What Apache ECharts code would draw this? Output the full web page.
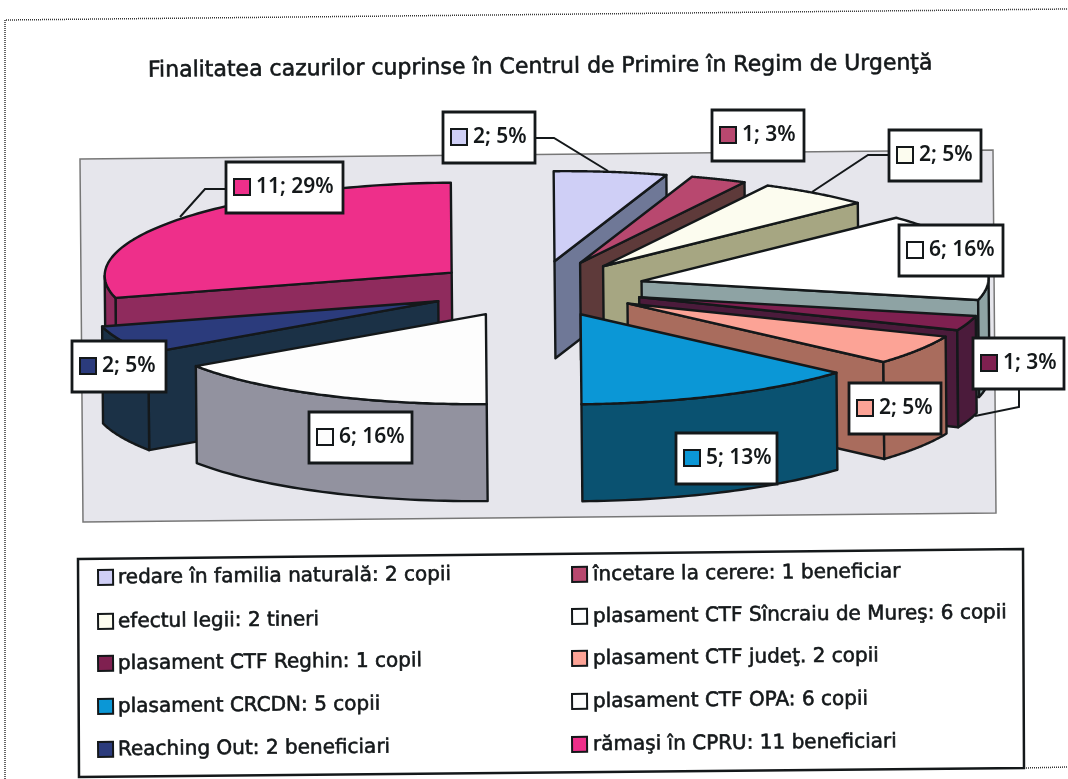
<!DOCTYPE html>
<html><head><meta charset="utf-8">
<style>html,body{margin:0;padding:0;background:#fff}#c{width:1068px;height:779px}</style>
<script src="https://cdn.jsdelivr.net/npm/echarts@6/dist/echarts.min.js"></script>
</head><body><div id="c"></div>
<script>
// ---- data ----
const titleText = 'Finalitatea cazurilor cuprinse în Centrul de Primire în Regim de Urgenţă';
const sliceNames = ['redare în familia naturală','încetare la cerere','efectul legii','plasament CTF Sîncraiu de Mureş','plasament CTF Reghin','plasament CTF judeţ','plasament CRCDN','plasament CTF OPA','Reaching Out','rămaşi în CPRU'];
const sliceValues = [2,1,2,6,1,2,5,6,2,11];
const legendLeft = ['redare în familia naturală: 2 copii','efectul legii: 2 tineri','plasament CTF Reghin: 1 copil','plasament CRCDN: 5 copii','Reaching Out: 2 beneficiari'];
const legendRight = ['încetare la cerere: 1 beneficiar','plasament CTF Sîncraiu de Mureş: 6 copii','plasament CTF judeţ. 2 copii','plasament CTF OPA: 6 copii','rămaşi în CPRU: 11 beneficiari'];
// ---- styles ----
const topColors  = ['#cfcff6','#b8486f','#fcfcef','#ffffff','#7f2050','#fca396','#0b97d6','#fdfdfd','#2b3b7c','#ee2f8a'];
const cutColors  = ['#6f7897','#5e3a3a','#a6a682','#8ea3a4','#4b1b3b','#a96c5d','#0a5271','#92929f','#1b3146','#8f2b5d'];
const legendLeftSwatch = [0,2,4,6,8], legendRightSwatch = [1,3,5,7,9];
// ---- layout ----
const cx=537, cy=289, rx=347, ry=90, explode=0.311, depth=97, tilt=0.0095;
const drawOrder=[0,1,2,3,4,5,6,9,8,7];
const labelBoxes=[[443,112,92,51],[712,110,92,51],[889,130,92,51],[899,225,104,51],[973,338,91,51],[849,383,92,51],[676,433,101,51],[309,412,103,51],[72,341,94,51],[226,162,117,51]];
const leaders={0:[[535,138],[554,138],[608,171]],2:[[889,155],[868,155],[812,192]],4:[[1019,389],[1019,407],[975,416]],9:[[226,189],[205,189],[180,217]]};
const FONT='"Noto Sans","DejaVu Sans",sans-serif';
const WIDE='"DejaVu Sans",sans-serif';
const INK='#14181a';
const rot=(x,y)=>{const dx=x-cx,dy=y-cy;return [cx+dx+tilt*dy,cy+dy-tilt*dx];};
const total=sliceValues.reduce((a,b)=>a+b,0);
const D=Math.PI/180;
let acc=0;
const angles=sliceValues.map(v=>{const a0=acc/total*360;acc+=v;return [a0,acc/total*360];});

function sliceChildren(i,value){
  const [a0,a1]=angles[i], m=(a0+a1)/2*D;
  const ax=cx+rx*explode*Math.sin(m), ay=cy-ry*explode*Math.cos(m);
  const P=a=>[ax+rx*Math.sin(a*D), ay-ry*Math.cos(a*D)];
  const kids=[];
  const base={stroke:INK,lineWidth:2.4,lineJoin:'round'};
  const add=(pts,fill)=>kids.push({type:'polygon',shape:{points:pts.map(p=>rot(p[0],p[1]))},style:Object.assign({fill},base)});
  const radial=a=>{const p=P(a);add([[ax,ay],p,[p[0],p[1]+depth],[ax,ay+depth]],cutColors[i]);};
  if(Math.sin(a0*D)<-1e-6) radial(a0);
  if(Math.sin(a1*D)>1e-6) radial(a1);
  const s=Math.max(a0,90), e=Math.min(a1,270);
  if(e>s){const up=[],dn=[];for(let k=0;k<=40;k++){const p=P(s+(e-s)*k/40);up.push(p);dn.unshift([p[0],p[1]+depth]);}add(up.concat(dn),cutColors[i]);}
  const top=[[ax,ay]];for(let k=0;k<=80;k++)top.push(P(a0+(a1-a0)*k/80));
  add(top,topColors[i]);
  return kids;
}
function labelChildren(i,value){
  const [x,y,w,h]=labelBoxes[i];
  const pct=Math.round(value/total*100);
  const kids=[];
  if(leaders[i])kids.push({type:'polyline',shape:{points:leaders[i]},style:{stroke:INK,lineWidth:2,fill:null}});
  kids.push({type:'rect',shape:{x,y,width:w,height:h},style:{fill:'#fff',stroke:INK,lineWidth:2.8}});
  kids.push({type:'rect',shape:{x:x+8,y:y+17,width:16,height:16},style:{fill:topColors[i],stroke:INK,lineWidth:2}});
  kids.push({type:'text',style:{x:x+30,y:y+25,text:value+'; '+pct+'%',fill:INK,font:'600 21px '+FONT,textVerticalAlign:'middle',verticalAlign:'middle'}});
  return kids;
}
const graphic=[];
const T=(text,x,y,font)=>({type:'text',x,y,rotation:tilt,originX:0,originY:0,style:{text,fill:INK,stroke:INK,lineWidth:0.6,font,textVerticalAlign:'middle',verticalAlign:'middle'},z:5});
const P4=(pts,style)=>({type:'polygon',shape:{points:pts},style,z:0});
graphic.push({type:'polyline',shape:{points:[[5,779],[5,20],[1068,9]]},style:{stroke:'#333',lineWidth:1.5,lineDash:[1,1],fill:null},z:0});
graphic.push({type:'polyline',shape:{points:[[1024,768],[1068,767]]},style:{stroke:'#333',lineWidth:1.5,lineDash:[1,1],fill:null},z:0});
graphic.push(P4([[80,159],[993,150],[996,513],[83,522]],{fill:'#e6e6ec',stroke:'#777',lineWidth:1.5}));
graphic.push(T(titleText,148,71,'22px '+WIDE));
graphic.push(P4([[78,559],[1023,549],[1024,768],[79,777]],{fill:'#fff',stroke:INK,lineWidth:2.5}));
const legendRows=(names,idx,sx,tx,ys)=>names.forEach((n,k)=>{
  graphic.push({type:'rect',x:sx,y:ys[k]-8,rotation:tilt,shape:{x:0,y:0,width:15,height:15},style:{fill:topColors[idx[k]],stroke:INK,lineWidth:2},z:5});
  graphic.push(T(n,tx,ys[k],'20px '+WIDE));
});
legendRows(legendLeft,legendLeftSwatch,98,118,[578,622,664,707,750]);
legendRows(legendRight,legendRightSwatch,572,593,[575,617,659,702,745]);

const chart=echarts.init(document.getElementById('c'),null,{renderer:'canvas'});
chart.setOption({
  animation:false,backgroundColor:'#fff',
  graphic:{elements:graphic},
  series:[
    {type:'custom',coordinateSystem:'none',z:2,silent:true,
     data:sliceValues.map((v,i)=>({name:sliceNames[i],value:[i,v]})),
     renderItem:(p,api)=>{const i=api.value(0),v=api.value(1);
       const ch=sliceChildren(i,v);ch.forEach(c=>c.z2=drawOrder.indexOf(i)*10);
       return {type:'group',children:ch};}},
    {type:'custom',coordinateSystem:'none',z:3,silent:true,
     data:sliceValues.map((v,i)=>({name:sliceNames[i],value:[i,v]})),
     renderItem:(p,api)=>({type:'group',children:labelChildren(api.value(0),api.value(1))})}
  ]
});
</script></body></html>
